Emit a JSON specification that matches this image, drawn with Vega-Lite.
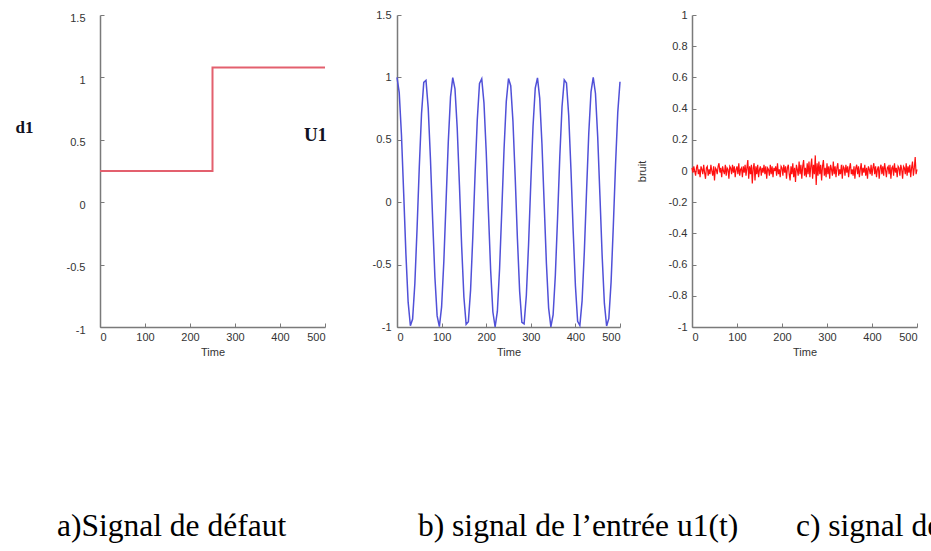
{
  "$schema": "https://vega.github.io/schema/vega-lite/v6.json",
  "autosize": "none",
  "padding": {"left": 100, "top": 15, "right": 831, "bottom": 224},
  "background": "white",
  "config": {
    "view": {"stroke": null},
    "axis": {
      "grid": false,
      "domainColor": "#7a7a7a",
      "domainWidth": 1.5,
      "tickColor": "#7a7a7a",
      "tickWidth": 1,
      "tickSize": -4,
      "labelFont": "Liberation Sans",
      "labelFontSize": 11,
      "labelColor": "#333333",
      "labelExpr": "'' + datum.value",
      "titleFont": "Liberation Sans",
      "titleFontSize": 11,
      "titleFontWeight": "normal",
      "titleColor": "#333333"
    },
    "title": {"font": "Liberation Serif", "fontSize": 31.5, "fontWeight": "normal", "color": "#000000"}
  },
  "datasets": {
    "defaut": [
      {"t": 0, "v": 0.25},
      {"t": 250, "v": 1.08},
      {"t": 500, "v": 1.08}
    ],
    "entree": [
      {"t":0,"v":1},{"t":5,"v":0.8776},{"t":10,"v":0.5403},{"t":15,"v":0.0707},{"t":20,"v":-0.4161},
      {"t":25,"v":-0.8011},{"t":30,"v":-0.99},{"t":35,"v":-0.9365},{"t":40,"v":-0.6536},{"t":45,"v":-0.2108},
      {"t":50,"v":0.2837},{"t":55,"v":0.7087},{"t":60,"v":0.9602},{"t":65,"v":0.9766},{"t":70,"v":0.7539},
      {"t":75,"v":0.3466},{"t":80,"v":-0.1455},{"t":85,"v":-0.602},{"t":90,"v":-0.9111},{"t":95,"v":-0.9972},
      {"t":100,"v":-0.8391},{"t":105,"v":-0.4755},{"t":110,"v":0.0044},{"t":115,"v":0.4833},{"t":120,"v":0.8439},
      {"t":125,"v":0.9978},{"t":130,"v":0.9074},{"t":135,"v":0.5949},{"t":140,"v":0.1367},{"t":145,"v":-0.3549},
      {"t":150,"v":-0.7597},{"t":155,"v":-0.9785},{"t":160,"v":-0.9577},{"t":165,"v":-0.7023},{"t":170,"v":-0.2752},
      {"t":175,"v":0.2194},{"t":180,"v":0.6603},{"t":185,"v":0.9514},{"t":190,"v":0.9887},{"t":195,"v":0.7958},
      {"t":200,"v":0.4081},{"t":205,"v":-0.0796},{"t":210,"v":-0.5477},{"t":215,"v":-0.8797},{"t":220,"v":-1},
      {"t":225,"v":-0.8754},{"t":230,"v":-0.5328},{"t":235,"v":-0.062},{"t":240,"v":0.4242},{"t":245,"v":0.8061},
      {"t":250,"v":0.9912},{"t":255,"v":0.9336},{"t":260,"v":0.6469},{"t":265,"v":0.2021},{"t":270,"v":-0.2921},
      {"t":275,"v":-0.7143},{"t":280,"v":-0.9626},{"t":285,"v":-0.9748},{"t":290,"v":-0.7481},{"t":295,"v":-0.3383},
      {"t":300,"v":0.1543},{"t":305,"v":0.609},{"t":310,"v":0.9147},{"t":315,"v":0.9964},{"t":320,"v":0.8342},
      {"t":325,"v":0.4677},{"t":330,"v":-0.0133},{"t":335,"v":-0.491},{"t":340,"v":-0.8486},{"t":345,"v":-0.9984},
      {"t":350,"v":-0.9037},{"t":355,"v":-0.5878},{"t":360,"v":-0.128},{"t":365,"v":0.3632},{"t":370,"v":0.7654},
      {"t":375,"v":0.9802},{"t":380,"v":0.9551},{"t":385,"v":0.6957},{"t":390,"v":0.2666},{"t":395,"v":-0.228},
      {"t":400,"v":-0.6669},{"t":405,"v":-0.9542},{"t":410,"v":-0.987},{"t":415,"v":-0.7906},{"t":420,"v":-0.3999},
      {"t":425,"v":0.0885},{"t":430,"v":0.5551},{"t":435,"v":0.8839},{"t":440,"v":0.9998},{"t":445,"v":0.8711},
      {"t":450,"v":0.5253},{"t":455,"v":0.0531},{"t":460,"v":-0.4322},{"t":465,"v":-0.8111},{"t":470,"v":-0.9922},
      {"t":475,"v":-0.9306},{"t":480,"v":-0.6401},{"t":485,"v":-0.1934},{"t":490,"v":0.3006},{"t":495,"v":0.7199},
      {"t":500,"v":0.965}
    ],
    "bruit": [
      {"t":0,"v":0.02},{"t":2,"v":-0.01},{"t":4,"v":0.03},{"t":6,"v":0},{"t":8,"v":-0.03},{"t":10,"v":0.02},{"t":12,"v":0.04},{"t":14,"v":-0.02},{"t":16,"v":0.01},{"t":18,"v":-0.04},
      {"t":20,"v":0.03},{"t":22,"v":0.01},{"t":24,"v":-0.02},{"t":26,"v":0.04},{"t":28,"v":-0.01},{"t":30,"v":-0.05},{"t":32,"v":0.02},{"t":34,"v":0.03},{"t":36,"v":-0.03},{"t":38,"v":0.01},
      {"t":40,"v":-0.02},{"t":42,"v":0.04},{"t":44,"v":0},{"t":46,"v":-0.03},{"t":48,"v":0.03},{"t":50,"v":-0.06},{"t":52,"v":0.02},{"t":54,"v":0.01},{"t":56,"v":-0.02},{"t":58,"v":0.03},
      {"t":60,"v":0.05},{"t":62,"v":-0.01},{"t":64,"v":0.02},{"t":66,"v":-0.04},{"t":68,"v":0.03},{"t":70,"v":0},{"t":72,"v":-0.02},{"t":74,"v":0.04},{"t":76,"v":-0.03},{"t":78,"v":0.02},
      {"t":80,"v":0.01},{"t":82,"v":-0.05},{"t":84,"v":0.03},{"t":86,"v":0.02},{"t":88,"v":-0.02},{"t":90,"v":0.04},{"t":92,"v":-0.01},{"t":94,"v":0.03},{"t":96,"v":-0.04},{"t":98,"v":0.01},
      {"t":100,"v":0.03},{"t":102,"v":-0.02},{"t":104,"v":0.05},{"t":106,"v":-0.03},{"t":108,"v":0.01},{"t":110,"v":0.02},{"t":112,"v":-0.04},{"t":114,"v":0.03},{"t":116,"v":-0.01},{"t":118,"v":0.04},
      {"t":120,"v":-0.03},{"t":122,"v":0.02},{"t":124,"v":0.07},{"t":126,"v":-0.05},{"t":128,"v":0.03},{"t":130,"v":-0.02},{"t":132,"v":0.04},{"t":134,"v":-0.08},{"t":136,"v":0.02},{"t":138,"v":0.05},
      {"t":140,"v":-0.06},{"t":142,"v":0.03},{"t":144,"v":-0.02},{"t":146,"v":0.04},{"t":148,"v":-0.04},{"t":150,"v":0.01},{"t":152,"v":0.03},{"t":154,"v":-0.03},{"t":156,"v":0.02},{"t":158,"v":-0.01},
      {"t":160,"v":0.04},{"t":162,"v":-0.02},{"t":164,"v":0.03},{"t":166,"v":-0.05},{"t":168,"v":0.02},{"t":170,"v":0.01},{"t":172,"v":-0.03},{"t":174,"v":0.04},{"t":176,"v":-0.02},{"t":178,"v":0.03},
      {"t":180,"v":-0.04},{"t":182,"v":0.02},{"t":184,"v":0},{"t":186,"v":0.03},{"t":188,"v":-0.03},{"t":190,"v":0.05},{"t":192,"v":-0.02},{"t":194,"v":0.01},{"t":196,"v":-0.04},{"t":198,"v":0.03},
      {"t":200,"v":0.02},{"t":202,"v":-0.03},{"t":204,"v":0.04},{"t":206,"v":-0.01},{"t":208,"v":0.03},{"t":210,"v":-0.05},{"t":212,"v":0.02},{"t":214,"v":0.04},{"t":216,"v":-0.02},{"t":218,"v":-0.06},
      {"t":220,"v":0.03},{"t":222,"v":-0.02},{"t":224,"v":0.05},{"t":226,"v":-0.04},{"t":228,"v":0.02},{"t":230,"v":-0.07},{"t":232,"v":0.04},{"t":234,"v":0.01},{"t":236,"v":-0.03},{"t":238,"v":0.06},
      {"t":240,"v":-0.02},{"t":242,"v":0.04},{"t":244,"v":-0.05},{"t":246,"v":0.03},{"t":248,"v":0.07},{"t":250,"v":-0.03},{"t":252,"v":0.02},{"t":254,"v":-0.04},{"t":256,"v":0.05},{"t":258,"v":-0.02},
      {"t":260,"v":0.06},{"t":262,"v":-0.04},{"t":264,"v":0.03},{"t":266,"v":0.08},{"t":268,"v":-0.05},{"t":270,"v":0.04},{"t":272,"v":-0.02},{"t":274,"v":0.1},{"t":276,"v":-0.09},{"t":278,"v":0.05},
      {"t":280,"v":-0.03},{"t":282,"v":0.06},{"t":284,"v":-0.02},{"t":286,"v":0.04},{"t":288,"v":-0.06},{"t":290,"v":0.03},{"t":292,"v":0.07},{"t":294,"v":-0.03},{"t":296,"v":0.02},{"t":298,"v":-0.04},
      {"t":300,"v":0.05},{"t":302,"v":-0.02},{"t":304,"v":0.03},{"t":306,"v":-0.05},{"t":308,"v":0.04},{"t":310,"v":0.01},{"t":312,"v":-0.03},{"t":314,"v":0.06},{"t":316,"v":-0.02},{"t":318,"v":0.03},
      {"t":320,"v":-0.04},{"t":322,"v":0.02},{"t":324,"v":0.05},{"t":326,"v":-0.03},{"t":328,"v":0.01},{"t":330,"v":-0.02},{"t":332,"v":0.04},{"t":334,"v":-0.05},{"t":336,"v":0.03},{"t":338,"v":0.02},
      {"t":340,"v":-0.03},{"t":342,"v":0.04},{"t":344,"v":-0.01},{"t":346,"v":0.03},{"t":348,"v":-0.04},{"t":350,"v":0.02},{"t":352,"v":0.05},{"t":354,"v":-0.02},{"t":356,"v":0.01},{"t":358,"v":-0.03},
      {"t":360,"v":0.03},{"t":362,"v":-0.05},{"t":364,"v":0.02},{"t":366,"v":0.04},{"t":368,"v":-0.02},{"t":370,"v":0.03},{"t":372,"v":-0.04},{"t":374,"v":0.01},{"t":376,"v":0.05},{"t":378,"v":-0.03},
      {"t":380,"v":0.02},{"t":382,"v":-0.01},{"t":384,"v":0.04},{"t":386,"v":-0.03},{"t":388,"v":0.02},{"t":390,"v":-0.05},{"t":392,"v":0.03},{"t":394,"v":0.01},{"t":396,"v":-0.02},{"t":398,"v":0.04},
      {"t":400,"v":-0.03},{"t":402,"v":0.02},{"t":404,"v":0.05},{"t":406,"v":-0.02},{"t":408,"v":0.03},{"t":410,"v":-0.04},{"t":412,"v":0.01},{"t":414,"v":0.03},{"t":416,"v":-0.05},{"t":418,"v":0.02},
      {"t":420,"v":0.04},{"t":422,"v":-0.02},{"t":424,"v":0.03},{"t":426,"v":-0.03},{"t":428,"v":0.05},{"t":430,"v":0.01},{"t":432,"v":-0.04},{"t":434,"v":0.02},{"t":436,"v":0.03},{"t":438,"v":-0.02},
      {"t":440,"v":0.04},{"t":442,"v":-0.05},{"t":444,"v":0.02},{"t":446,"v":0.03},{"t":448,"v":-0.03},{"t":450,"v":0.05},{"t":452,"v":-0.01},{"t":454,"v":0.02},{"t":456,"v":-0.04},{"t":458,"v":0.03},
      {"t":460,"v":0.02},{"t":462,"v":-0.03},{"t":464,"v":0.04},{"t":466,"v":0.01},{"t":468,"v":-0.05},{"t":470,"v":0.03},{"t":472,"v":0.02},{"t":474,"v":-0.02},{"t":476,"v":0.05},{"t":478,"v":-0.03},
      {"t":480,"v":0.03},{"t":482,"v":-0.01},{"t":484,"v":0.04},{"t":486,"v":-0.04},{"t":488,"v":0.02},{"t":490,"v":0.06},{"t":492,"v":-0.03},{"t":494,"v":0.02},{"t":496,"v":0.09},{"t":498,"v":-0.02},
      {"t":500,"v":0.01}
    ]
  },
  "spacing": 72,
  "bounds": "flush",
  "hconcat": [
    {
      "width": 225,
      "height": 312,
      "data": {"name": "defaut"},
      "title": {"text": "a)Signal de défaut", "orient": "bottom", "anchor": "start", "frame": "group", "dx": -43, "offset": 179, "baseline": "alphabetic"},
      "mark": {"type": "line", "interpolate": "step-after", "color": "#e3606e", "strokeWidth": 2},
      "encoding": {
        "x": {"field": "t", "type": "quantitative", "scale": {"domain": [0, 500], "nice": false}, "axis": {"title": "Time", "values": [0, 100, 200, 300, 400, 500], "labelPadding": 8, "titlePadding": 4}},
        "y": {"field": "v", "type": "quantitative", "scale": {"domain": [-1, 1.5], "nice": false, "zero": false}, "axis": {"title": "d1", "values": [-1, -0.5, 0, 0.5, 1, 1.5], "labelPadding": 19, "labelOffset": 3, "titleAngle": 0, "titleX": -76, "titleY": 117, "titleAlign": "center", "titleBaseline": "alphabetic", "titleFont": "Liberation Serif", "titleFontSize": 17, "titleFontWeight": "bold", "titleColor": "#111122"}}
      }
    },
    {
      "width": 223,
      "height": 312,
      "data": {"name": "entree"},
      "title": {"text": "b) signal de l’entrée u1(t)", "orient": "bottom", "anchor": "start", "frame": "group", "dx": 21, "offset": 179, "baseline": "alphabetic"},
      "mark": {"type": "line", "color": "#5050d8", "strokeWidth": 1.5},
      "encoding": {
        "x": {"field": "t", "type": "quantitative", "scale": {"domain": [0, 500], "nice": false}, "axis": {"title": "Time", "values": [0, 100, 200, 300, 400, 500], "labelPadding": 8, "titlePadding": 4}},
        "y": {"field": "v", "type": "quantitative", "scale": {"domain": [-1, 1.5], "nice": false, "zero": false}, "axis": {"title": "U1", "values": [-1, -0.5, 0, 0.5, 1, 1.5], "labelPadding": 10, "titleAngle": 0, "titleX": -82, "titleY": 125, "titleAlign": "center", "titleBaseline": "alphabetic", "titleFont": "Liberation Serif", "titleFontSize": 19, "titleFontWeight": "bold", "titleColor": "#111122"}}
      }
    },
    {
      "width": 225,
      "height": 312,
      "data": {"name": "bruit"},
      "title": {"text": "c) signal de bruit", "orient": "bottom", "anchor": "start", "frame": "group", "dx": 104, "offset": 179, "baseline": "alphabetic"},
      "mark": {"type": "line", "color": "#ff1010", "strokeWidth": 1.2},
      "encoding": {
        "x": {"field": "t", "type": "quantitative", "scale": {"domain": [0, 500], "nice": false}, "axis": {"title": "Time", "values": [0, 100, 200, 300, 400, 500], "labelPadding": 8, "titlePadding": 4}},
        "y": {"field": "v", "type": "quantitative", "scale": {"domain": [-1, 1], "nice": false, "zero": false}, "axis": {"title": "bruit", "values": [-1, -0.8, -0.6, -0.4, -0.2, 0, 0.2, 0.4, 0.6, 0.8, 1], "labelPadding": 9, "titleX": -47, "titleBaseline": "alphabetic"}}
      }
    }
  ]
}
